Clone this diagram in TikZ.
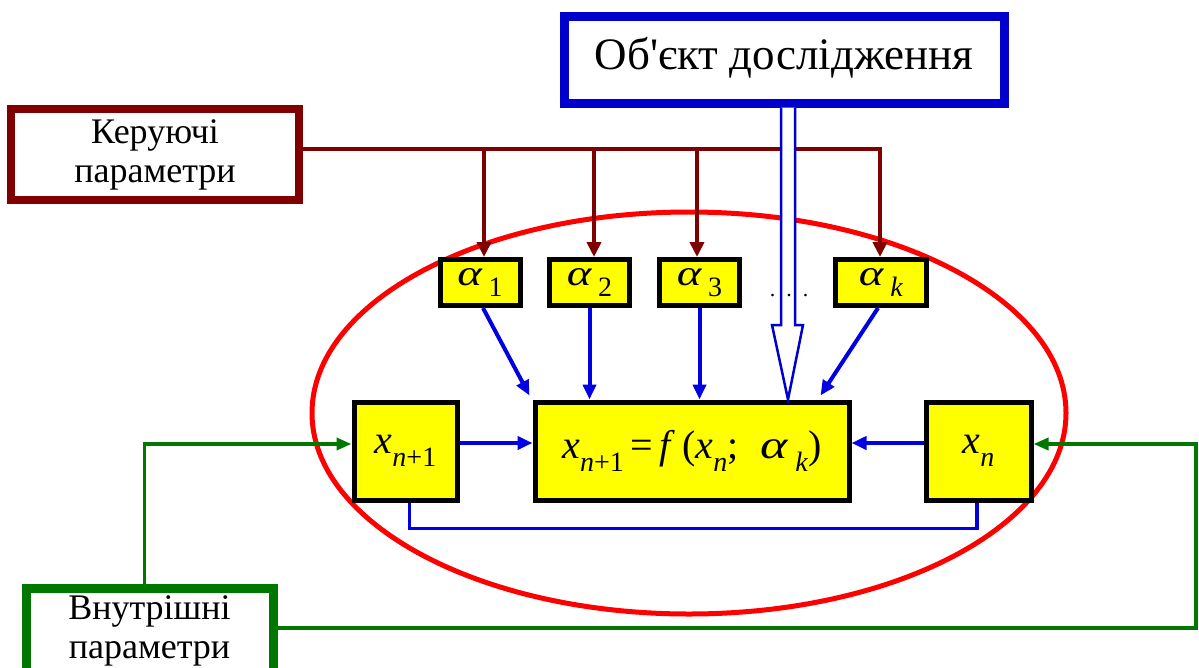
\documentclass[tikz,border=0pt]{standalone}
\usepackage{fontspec}
\usepackage{graphicx}
\setmainfont{Liberation Serif}
\newfontfamily\plainf{Liberation Serif}
\usetikzlibrary{arrows.meta,calc}
\definecolor{maroon}{RGB}{128,0,0}
\definecolor{dblue}{RGB}{0,0,204}
\definecolor{ablue}{RGB}{0,0,225}
\definecolor{dgreen}{RGB}{0,120,0}
\definecolor{yel}{RGB}{255,255,0}
\newcommand\sbs[1]{\raisebox{-0.32em}{\fontsize{28}{28}\selectfont #1}}
\newcommand\asub[1]{\raisebox{-0.32em}{\fontsize{28}{28}\selectfont #1}}
\newcommand\alf{\scalebox{1.3}[1.0]{\textit{α}}}
\begin{document}
\begin{tikzpicture}[x=1pt,y=-1pt,
  ybox/.style={rectangle,draw=black,fill=yel,line width=5pt,inner sep=0pt},
  wbox/.style={rectangle,fill=white,inner sep=0pt,align=center},
  marr/.style={draw=maroon,line width=4.5pt,-{Triangle[length=15pt,width=14pt]}},
  barr/.style={draw=ablue,line width=4pt,-{Triangle[length=15pt,width=13pt]}},
  bline/.style={draw=ablue,line width=3.5pt},
  garr/.style={draw=dgreen,line width=3.5pt,-{Triangle[length=15pt,width=12pt]}},
  bigtxt/.style={font=\fontsize{45}{50}\selectfont},
  midtxt/.style={font=\fontsize{36}{40}\selectfont},
  atxt/.style={font=\fontsize{36}{38}\selectfont},
  mtxt/.style={font=\fontsize{40}{44}\selectfont}
]
\useasboundingbox (0,0) rectangle (1199,667);

% red ellipse
\draw[red,line width=5pt] (689,413) ellipse [x radius=377, y radius=201];

% boxes
\node[wbox,draw=dblue,line width=9pt,minimum width=440pt,minimum height=87pt,bigtxt]
  (obj) at (784,59.5) {\raisebox{13pt}{\plainf Об'єкт дослідження}};
\node[wbox,draw=maroon,line width=8pt,minimum width=288pt,minimum height=91pt,midtxt]
  (ker) at (155,154.5) {Керуючі\\[-1pt]параметри};
\node[wbox,draw=dgreen,line width=9pt,minimum width=247pt,minimum height=85pt,midtxt]
  (vn) at (149.5,631) {Внутрішні\\[-1pt]параметри};

\node[ybox,minimum width=80pt,minimum height=46pt,atxt] (a1) at (480,282.5) {\raisebox{-3pt}{\alf\,\asub{1}}};
\node[ybox,minimum width=80pt,minimum height=46pt,atxt] (a2) at (589.5,282.5) {\raisebox{-3pt}{\alf\,\asub{2}}};
\node[ybox,minimum width=80pt,minimum height=46pt,atxt] (a3) at (699.5,282.5) {\raisebox{-3pt}{\alf\,\asub{3}}};
\node[ybox,minimum width=91pt,minimum height=46pt,atxt] (ak) at (881,282.5) {\raisebox{-3pt}{\alf\,\asub{\textit{k}}}};

\node[ybox,minimum width=314pt,minimum height=98pt,mtxt] (main) at (692,451)
  {\textit{x}\sbs{\textit{n}+1}\,=\,\textit{f}\,(\textit{x}\sbs{\textit{n}};\;\;\alf\,\sbs{\textit{k}})};
\node[ybox,minimum width=103pt,minimum height=98pt,mtxt] (xn1) at (405.5,451) {\textit{x}\sbs{\textit{n}+1}};
\node[ybox,minimum width=105pt,minimum height=98pt,mtxt] (xn) at (978.5,451) {\textit{x}\sbs{\textit{n}}};

% maroon bus
\coordinate (d1) at (484,149);
\coordinate (d2) at (594,149);
\coordinate (d3) at (697,149);
\coordinate (d4) at (880,149);
\draw[maroon,line width=4.5pt,line join=miter] (ker.east |- d1) -- (d4) -- ++(0,20);
\draw[marr] (d1) -- (a1.north -| d1);
\draw[marr] (d2) -- (a2.north -| d2);
\draw[marr] (d3) -- (a3.north -| d3);
\draw[marr] (d4) -- (ak.north -| d4);

% hollow arrow
\coordinate (s1) at (781,0);
\coordinate (s2) at (795,0);
\coordinate (hx) at (788,0);
\draw[dblue,line width=2.5pt,fill=white,line join=miter]
  (obj.south -| s1) -- (781,325) -- (772,325) -- (main.north -| hx) -- (803,325) -- (795,325) -- (obj.south -| s2);

% dots between alpha_3 and alpha_k
\node[font=\fontsize{22}{22}\selectfont,inner sep=0pt] (dots) at (789,296) {.\hspace{11pt}.\hspace{11pt}.};

% blue arrows alpha -> main
\draw[barr] ([xshift=3pt]a1.south) -- ($(main.north west)+(-3,-4)$);
\draw[barr] (a2.south) -- (a2.south |- main.north);
\draw[barr] (a3.south) -- (a3.south |- main.north);
\draw[barr] ([xshift=-3pt]ak.south) -- ($(main.north east)+(-31,-4)$);

% blue arrows x -> main
\draw[barr] ([yshift=8pt]xn1.east) -- ([yshift=8pt]main.west);
\draw[barr] ([yshift=8pt]xn.west) -- ([yshift=8pt]main.east);
\draw[bline] ([xshift=4pt]xn1.south) -- ++(0,26) -| ([xshift=-1.5pt]xn.south);

% green feedback
\coordinate (gR) at (1196,444);
\draw[garr] ([xshift=-5pt]vn.north) |- ([yshift=7pt]xn1.west);
\draw[garr] ([yshift=3pt]vn.east) -| (gR) -- ([yshift=7pt]xn.east);
\end{tikzpicture}
\end{document}
